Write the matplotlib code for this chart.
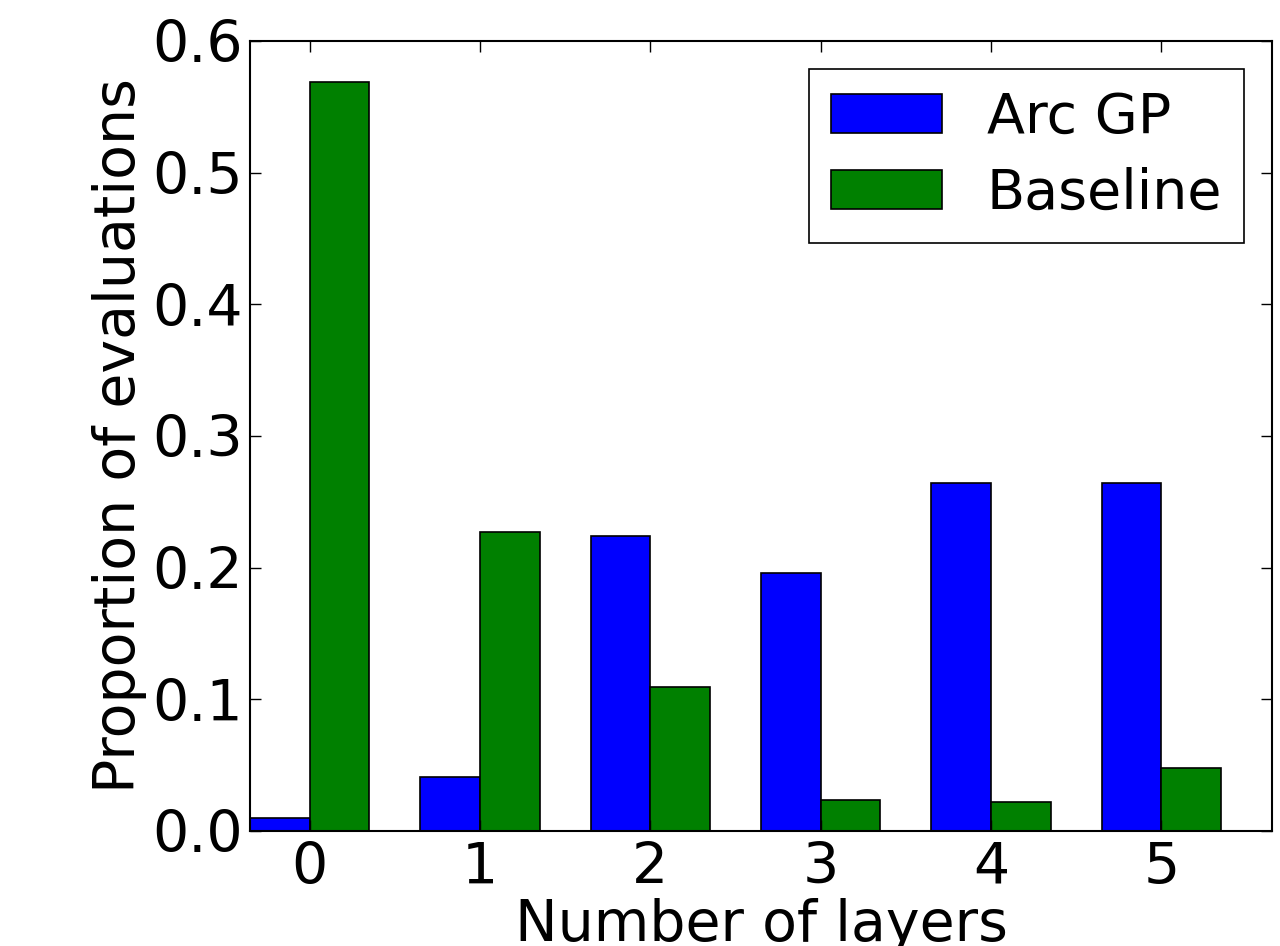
import matplotlib
matplotlib.use("Agg")
import matplotlib.pyplot as plt
import numpy as np

# proportion of evaluations per number of layers
layers = [0, 1, 2, 3, 4, 5]
arc_gp = [0.010, 0.041, 0.224, 0.196, 0.264, 0.264]
baseline = [0.569, 0.227, 0.109, 0.0235, 0.022, 0.048]
series_names = ["Arc GP", "Baseline"]

plt.rcParams['font.family'] = ['DejaVu Sans']
plt.rcParams['font.size'] = 41

fig = plt.figure(figsize=(12.8, 9.46), dpi=100)
ax = fig.add_axes([0.1953, 0.1216, 0.7985, 0.8351])

width = 0.35
x = np.arange(len(layers))
ax.bar(x, arc_gp, width, align='edge', color=(0, 0, 1), edgecolor='black',
       linewidth=1.2, label=series_names[0])
ax.bar(x + width, baseline, width, align='edge', color=(0, 0.5, 0), edgecolor='black',
       linewidth=1.2, label=series_names[1])

ax.set_xlim(0, 6)
ax.set_ylim(0, 0.6)
ax.set_xticks(x + width)
ax.set_xticklabels([str(l) for l in layers])
ax.set_yticks([0.0, 0.1, 0.2, 0.3, 0.4, 0.5, 0.6])
ax.set_yticklabels(["0.0", "0.1", "0.2", "0.3", "0.4", "0.5", "0.6"])
ax.tick_params(direction='in', length=8, width=1, top=True, right=True)
ax.tick_params(axis='y', pad=5)
ax.tick_params(axis='x', pad=7)
for s in ax.spines.values():
    s.set_linewidth(1.5)

ax.set_xlabel("Number of layers", labelpad=2)
ax.set_ylabel("Proportion of evaluations", labelpad=4)

leg = ax.legend(loc='upper right', fancybox=False, framealpha=1, edgecolor='black',
                borderaxespad=0.5, handletextpad=0.8, borderpad=0.4, labelspacing=0.4,
                fontsize=40)
leg.get_frame().set_linewidth(1.2)

fig.savefig("out.png", dpi=100)
